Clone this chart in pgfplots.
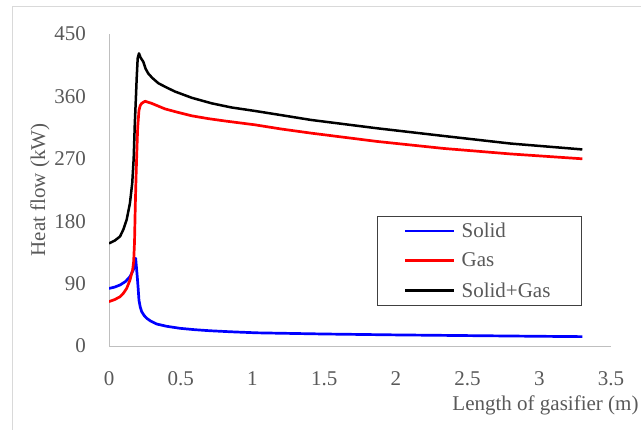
\documentclass[border=0pt]{standalone}
\usepackage{fontspec}
\setmainfont{Liberation Serif}
\usepackage{pgfplots}
\pgfplotsset{compat=1.18}
\definecolor{txtgray}{HTML}{595959}
\definecolor{axgray}{HTML}{BFBFBF}
\definecolor{framegray}{HTML}{D9D9D9}

\begin{document}
\begin{tikzpicture}
\useasboundingbox (0,0) rectangle (641bp,430bp);
% outer chart frame (right and bottom edges fall outside the image)
\draw[framegray, line width=1bp] (12.7bp,0) -- (12.7bp,423bp) -- (645bp,423bp);
\begin{axis}[
    at={(109bp,84bp)}, anchor=south west,
    scale only axis, width=502bp, height=312bp,
    xmin=0, xmax=3.5, ymin=0, ymax=450,
    xtick={0,0.5,...,3.5}, ytick={0,90,...,450},
    axis x line=bottom, axis y line=left,
    axis line style={-, axgray, line width=1bp},
    major tick length=0pt,
    /pgf/number format/assume math mode=true,
    font=\fontsize{21bp}{25bp}\selectfont,
    tick label style={text=txtgray, inner sep=0pt},
    xticklabel style={anchor=center, yshift=-33bp},
    yticklabel style={anchor=east, xshift=-23bp},
    every axis y label/.style={at={(rel axis cs:0,0.5)}, rotate=90,
        anchor=center, yshift=69bp, text=txtgray},
    every axis x label/.style={at={(rel axis cs:0,0)}, anchor=east,
        xshift=533bp, yshift=-59bp, text=txtgray},
    ylabel={Heat flow (kW)},
    xlabel={Length of gasifier (m)},
    legend style={at={(axis cs:1.868,187.5)}, anchor=north west,
        draw=black!75, line width=0.8bp, fill=white, outer sep=0pt,
        inner xsep=27bp, inner ysep=7bp, row sep=14bp, column sep=6bp,
        text=txtgray, nodes={inner sep=0pt}},
    legend cell align=left,
    legend image code/.code={%
        \draw[#1, line width=2.7bp] (0bp,0bp) -- (49bp,0bp);},
]
\addplot[blue, line width=2.7bp, line join=round] coordinates {
(0,83) (0.04,85) (0.077,88) (0.115,93) (0.146,100) (0.17,110) (0.18,118) (0.186,126.5)
(0.192,112) (0.197,100) (0.203,84) (0.209,66) (0.218,56) (0.228,49.5) (0.245,44)
(0.263,40) (0.29,36) (0.333,31.7) (0.4,28.5) (0.495,25.5) (0.6,23.5) (0.704,22)
(0.85,20.5) (1.03,19) (1.5,17.3) (2.0,16) (2.5,15) (3.0,14) (3.3,13.5)};
\addlegendentry{\makebox[93bp][l]{Solid}}
\addplot[red, line width=2.7bp, line join=round] coordinates {
(0,64) (0.04,67) (0.077,71) (0.1,76) (0.123,83) (0.146,95) (0.165,110) (0.172,122)
(0.178,150) (0.183,200) (0.188,239) (0.193,273) (0.2,315) (0.209,340) (0.218,347)
(0.228,350) (0.251,353) (0.297,350) (0.39,342) (0.48,337) (0.577,332) (0.69,328)
(0.81,324.5) (1.018,319) (1.2,313) (1.41,307) (1.87,295) (2.33,285) (2.8,277) (3.3,270)};
\addlegendentry{\makebox[93bp][l]{Gas}}
\addplot[black, line width=2.5bp, line join=round] coordinates {
(0,148) (0.04,152) (0.077,158) (0.1,168) (0.123,182) (0.146,206) (0.162,235)
(0.172,270) (0.18,321) (0.188,360) (0.193,386) (0.2,415) (0.209,422) (0.22,416)
(0.239,410) (0.255,400) (0.274,393) (0.3,387) (0.344,379) (0.4,373) (0.46,367)
(0.577,358) (0.716,350) (0.855,344) (1.018,339) (1.2,333) (1.41,326) (1.87,314)
(2.33,303) (2.8,292) (3.3,283.5)};
\addlegendentry{\makebox[93bp][l]{Solid+Gas}}
\end{axis}
\end{tikzpicture}
\end{document}
